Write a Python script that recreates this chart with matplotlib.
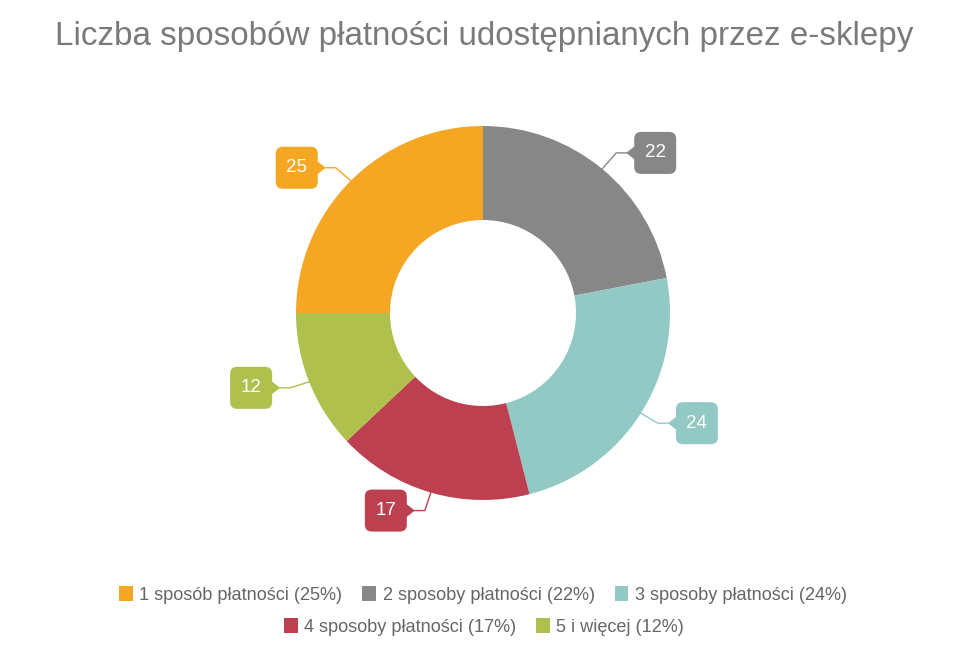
import numpy as np
import matplotlib.pyplot as plt
from matplotlib.patches import FancyBboxPatch, Polygon, Patch

plt.rcParams['font.family'] = ['Liberation Sans', 'DejaVu Sans']

# dane
kategorie = ['1 sposób płatności', '2 sposoby płatności', '3 sposoby płatności',
             '4 sposoby płatności', '5 i więcej']
wartosci = [25, 22, 24, 17, 12]
kolory = ['#F5A623', '#878787', '#92C9C4', '#BC4050', '#AFC04D']
tytul = 'Liczba sposobów płatności udostępnianych przez e-sklepy'

W, H = 960, 663
fig = plt.figure(figsize=(W / 100, H / 100), dpi=100)
ax = fig.add_axes([0, 0, 1, 1])

cx, cy, r = 483, H - 313, 187

# kolejność rysowania jak w oryginale: od godz. 9 zgodnie z ruchem wskazówek
wedges, _ = ax.pie(wartosci, colors=kolory, startangle=180, counterclock=False,
                   radius=r, center=(cx, cy), frame=True,
                   wedgeprops=dict(width=r - 93, linewidth=0))

ax.set_xlim(0, W)
ax.set_ylim(0, H)
ax.set_aspect('equal')
ax.axis('off')

# przesunięcia etykiet względem punktu na obwodzie (piksele)
przes = [(-54, 13), (53, 16), (56, -10), (-45, -18), (-58, -6)]
bw, bh = 42, 42
for w, v, c, (dx, dy) in zip(wedges, wartosci, kolory, przes):
    ang = np.deg2rad((w.theta1 + w.theta2) / 2)
    ax_, ay_ = cx + r * np.cos(ang), cy + r * np.sin(ang)
    bx, by = ax_ + dx, ay_ + dy
    s = 1 if dx > 0 else -1
    edge = bx - s * bw / 2
    tip = edge - s * 8
    elbow = tip - s * 10
    ax.plot([ax_, elbow, tip], [ay_, by, by], color=c, lw=1, zorder=3)
    box = FancyBboxPatch((bx - bw / 2, by - bh / 2), bw, bh,
                         boxstyle='round,pad=0,rounding_size=7',
                         fc=c, ec='none', zorder=4)
    ax.add_patch(box)
    ax.add_patch(Polygon([[edge + s * 1, by - 7], [tip, by], [edge + s * 1, by + 7]],
                         closed=True, fc=c, ec='none', zorder=4))
    ax.text(bx, by, str(v), color='white', fontsize=13.5, ha='center', va='center',
            zorder=5)

fig.text(484 / W, 1 - 37 / H, tytul, ha='center', va='center', fontsize=23.9,
         color='#7a7a7a')

uchwyty = [Patch(fc=c, ec='none') for c in kolory]
etykiety = [f'{k} ({v}%)' for k, v in zip(kategorie, wartosci)]

leg_kw = dict(frameon=False, fontsize=13.1, handlelength=0.75, handleheight=0.9,
              handletextpad=0.35, columnspacing=1.1, labelcolor='#666666',
              borderpad=0, borderaxespad=0)
l1 = fig.legend(uchwyty[:3], etykiety[:3], ncol=3, loc='center',
                bbox_to_anchor=(483 / W, 1 - 595 / H), **leg_kw)
l2 = fig.legend(uchwyty[3:], etykiety[3:], ncol=2, loc='center',
                bbox_to_anchor=(484 / W, 1 - 627 / H), **leg_kw)

fig.savefig('out.png', dpi=100)
